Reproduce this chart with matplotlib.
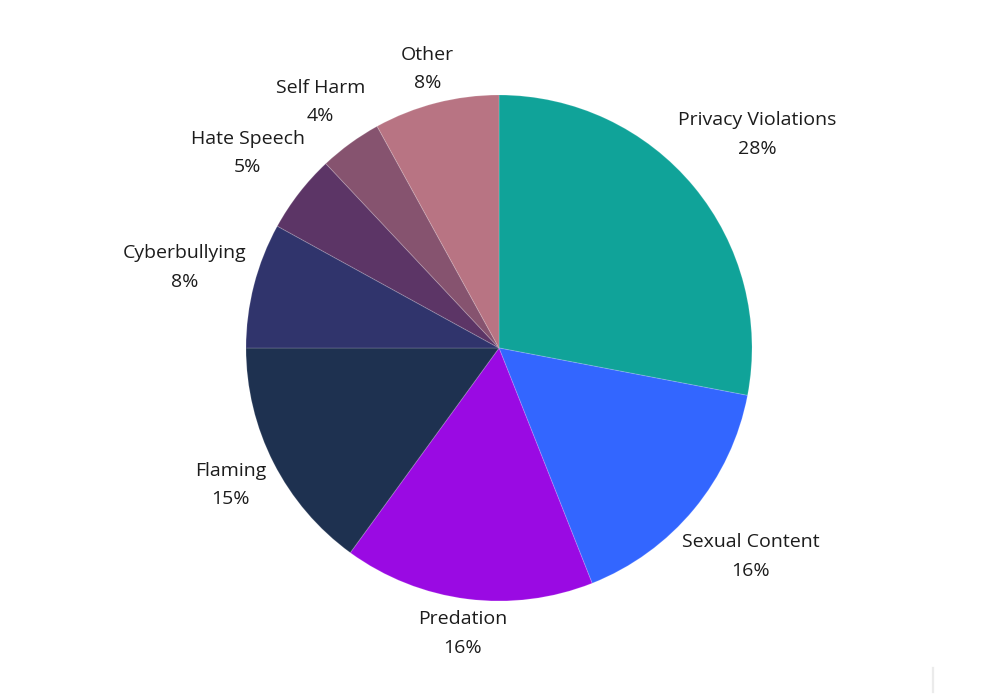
import numpy as np
import matplotlib
matplotlib.use("Agg")
import matplotlib.pyplot as plt
from matplotlib.lines import Line2D

categories = ["Privacy Violations", "Sexual Content", "Predation", "Flaming",
              "Cyberbullying", "Hate Speech", "Self Harm", "Other"]
values = [28, 16, 16, 15, 8, 5, 4, 8]
colors = ["#10a399", "#3366ff", "#9a0ae3", "#1e3150",
          "#30346c", "#5c3566", "#86536f", "#b87483"]

W, H = 999, 699
fig = plt.figure(figsize=(W / 100, H / 100), dpi=100)
fig.patch.set_facecolor("white")

cx, cy, R = 499, 699 - 348, 253
ax = fig.add_axes([(cx - R) / W, (cy - R) / H, 2 * R / W, 2 * R / H])
wedges, _ = ax.pie(values, colors=colors, startangle=90, counterclock=False,
                   radius=1.0,
                   wedgeprops=dict(edgecolor=(1, 1, 1, 0.15), linewidth=0.8))
ax.set_xlim(-1, 1)
ax.set_ylim(-1, 1)
ax.set_aspect("equal")
ax.axis("off")

font = dict(family=["Open Sans", "DejaVu Sans"], fontsize=14, color="#1c1c1c")
total = sum(values)
texts = []
angles = []
cum = 0
for cat, v in zip(categories, values):
    mid = 90 - (cum + v / 2) / total * 360
    cum += v
    angles.append(np.deg2rad(mid))
    t = ax.text(0, 0, f"{cat}\n{round(v / total * 100)}%", ha="center", va="center",
                linespacing=1.75, clip_on=False, **font)
    texts.append(t)

fig.canvas.draw()
renderer = fig.canvas.get_renderer()
gap = 6.0  # pixels
for t, a in zip(texts, angles):
    bb = t.get_window_extent(renderer)
    hw, hh = bb.width / 2, bb.height / 2
    d = R + gap + abs(np.cos(a)) * hw + abs(np.sin(a)) * hh
    px = cx + d * np.cos(a)
    py = cy + d * np.sin(a)
    dx, dy = ax.transData.inverted().transform((px, py))
    t.set_position((dx, dy))

# faint vertical mark at lower right
fig.add_artist(Line2D([933 / W, 933 / W], [1 - 668 / H, 1 - 692 / H],
                      transform=fig.transFigure, color="#ebebeb", linewidth=1.6))

fig.savefig("out.png", dpi=100, facecolor="white")
